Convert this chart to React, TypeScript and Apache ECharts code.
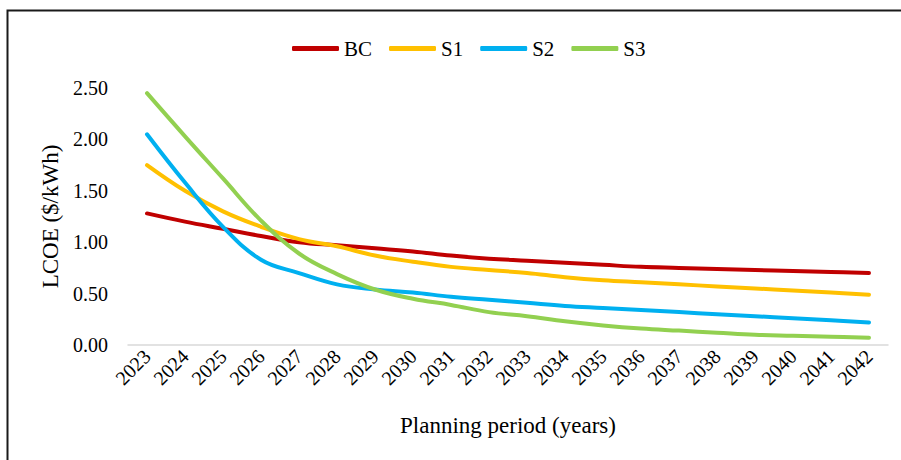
import React, { useEffect, useRef } from "react";
import * as echarts from "echarts";

const years = ["2023","2024","2025","2026","2027","2028","2029","2030","2031","2032","2033","2034","2035","2036","2037","2038","2039","2040","2041","2042"];
const bc = [1.28, 1.20, 1.13, 1.06, 1.00, 0.97, 0.94, 0.91, 0.87, 0.84, 0.82, 0.80, 0.78, 0.76, 0.75, 0.74, 0.73, 0.72, 0.71, 0.70];
const s1 = [1.75, 1.50, 1.30, 1.15, 1.03, 0.96, 0.87, 0.81, 0.76, 0.73, 0.70, 0.66, 0.63, 0.61, 0.59, 0.57, 0.55, 0.53, 0.51, 0.49];
const s2 = [2.05, 1.58, 1.15, 0.83, 0.70, 0.59, 0.54, 0.51, 0.47, 0.44, 0.41, 0.38, 0.36, 0.34, 0.32, 0.30, 0.28, 0.26, 0.24, 0.22];
const s3 = [2.45, 2.03, 1.62, 1.21, 0.89, 0.69, 0.54, 0.45, 0.39, 0.32, 0.28, 0.23, 0.19, 0.16, 0.14, 0.12, 0.10, 0.09, 0.08, 0.07];

const seriesNames = ["BC", "S1", "S2", "S3"];
const seriesData = [bc, s1, s2, s3];
const colors = ["#C00000", "#FFC000", "#00B0F0", "#92D050"];

const FONT = "Liberation Serif";

export default function App() {
  const ref = useRef<HTMLDivElement>(null);
  useEffect(() => {
    if (!ref.current) return;
    const chart = echarts.init(ref.current, undefined, { renderer: "svg" });
    chart.setOption({
      animation: false,
      backgroundColor: "#ffffff",
      textStyle: { fontFamily: FONT, color: "#000" },
      graphic: [
        {
          type: "rect",
          shape: { x: 7.5, y: 10.5, width: 1200, height: 1000 },
          style: { fill: "none", stroke: "#1a1a1a", lineWidth: 2 },
          silent: true,
        },
      ],
      legend: {
        left: 287,
        top: 33,
        icon: "roundRect",
        itemWidth: 47,
        itemHeight: 5,
        itemGap: 17,
        textStyle: { fontFamily: FONT, fontSize: 21, color: "#000" },
        data: seriesNames,
      },
      grid: { left: 128, right: 13, top: 88, bottom: 115, containLabel: false },
      xAxis: {
        type: "category",
        data: years,
        boundaryGap: true,
        name: "Planning period (years)",
        nameLocation: "middle",
        nameGap: 69,
        nameTextStyle: { fontFamily: FONT, fontSize: 23, color: "#000" },
        axisLine: { show: true, lineStyle: { color: "#d9d9d9", width: 1.5 } },
        axisTick: { show: false },
        axisLabel: { rotate: 45, fontFamily: FONT, fontSize: 20, color: "#000", margin: 8, interval: 0 },
        splitLine: { show: false },
      },
      yAxis: {
        type: "value",
        min: 0,
        max: 2.5,
        interval: 0.5,
        name: "LCOE ($/kWh)",
        nameLocation: "middle",
        nameGap: 66,
        nameTextStyle: { fontFamily: FONT, fontSize: 23, color: "#000" },
        axisLine: { show: false },
        axisTick: { show: false },
        splitLine: { show: false },
        axisLabel: {
          fontFamily: FONT,
          fontSize: 20,
          color: "#000",
          margin: 20,
          formatter: (v: number) => v.toFixed(2),
        },
      },
      series: seriesNames.map((n, i) => ({
        name: n,
        type: "line",
        data: seriesData[i],
        smooth: 0.4,
        symbol: "none",
        showSymbol: false,
        color: colors[i],
        itemStyle: { color: colors[i] },
        lineStyle: { color: colors[i], width: 4, cap: "round" },
      })),
    });
    return () => chart.dispose();
  }, []);
  return (
    <div
      ref={ref}
      style={{ position: "fixed", left: 0, top: 0, width: 901, height: 460 }}
    />
  );
}
